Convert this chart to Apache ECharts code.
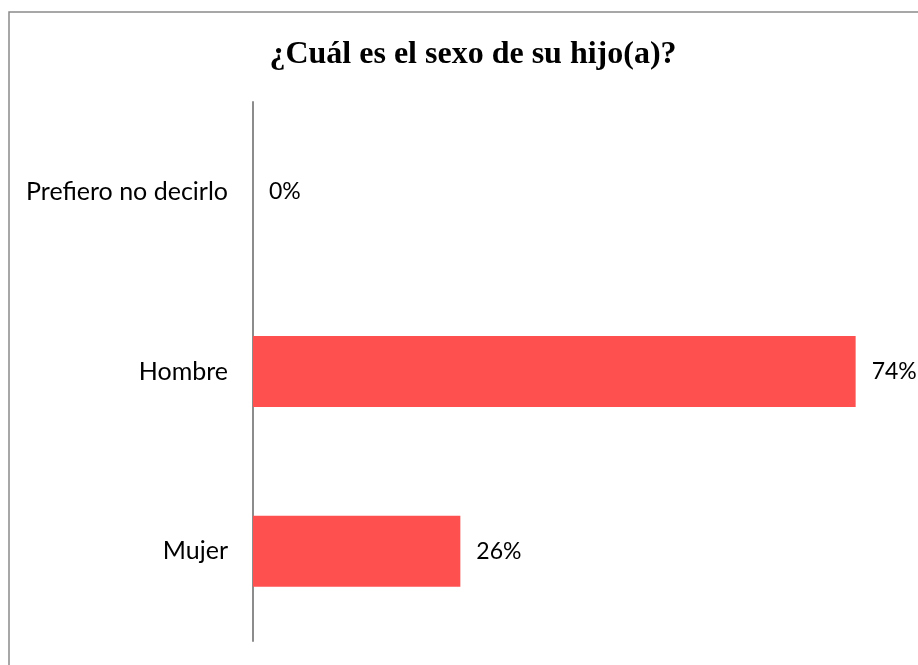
<!DOCTYPE html>
<html>
<head>
<meta charset="utf-8">
<script src="https://cdn.jsdelivr.net/npm/echarts@6/dist/echarts.min.js"></script>
<style>
  html, body { margin: 0; padding: 0; background: #fff; }
  #chart { width: 918px; height: 665px; }
</style>
</head>
<body>
<div id="chart"></div>
<script>
// categories bottom to top (echarts draws first category at the bottom)
const categories = ['Mujer', 'Hombre', 'Prefiero no decirlo']
const percents = [25.6, 74.4, 0]

const chart = echarts.init(document.getElementById('chart'))
chart.setOption({
  animation: false,
  backgroundColor: '#fff',
  graphic: [{
    type: 'rect',
    shape: { x: 9, y: 12, width: 940, height: 700 },
    style: { fill: 'none', stroke: '#8a8a8a', lineWidth: 1.5 },
    silent: true
  }],
  title: {
    text: '¿Cuál es el sexo de su hijo(a)?',
    left: 468,
    top: 34,
    textAlign: 'center',
    textStyle: {
      fontFamily: 'Liberation Serif',
      fontWeight: 'bold',
      fontSize: 32,
      color: '#000'
    }
  },
  grid: {
    left: 253,
    right: 17,
    top: 102,
    bottom: 24
  },
  xAxis: {
    type: 'value',
    min: 0,
    max: 80,
    show: false
  },
  yAxis: {
    type: 'category',
    data: categories,
    axisLine: { show: true, lineStyle: { color: '#8c8c8c', width: 2 } },
    axisTick: { show: false },
    splitLine: { show: false },
    axisLabel: {
      margin: 25,
      fontFamily: 'Lato',
      fontSize: 25,
      color: '#000'
    }
  },
  series: [{
    type: 'bar',
    data: percents,
    barWidth: 71,
    itemStyle: { color: '#FF5050' },
    label: {
      show: true,
      position: 'right',
      distance: 16,
      fontFamily: 'Lato',
      fontSize: 23,
      color: '#000',
      formatter: p => Math.round(p.value) + '%'
    }
  }]
})
</script>
</body>
</html>
